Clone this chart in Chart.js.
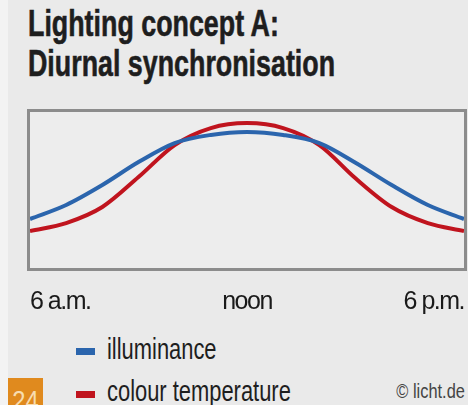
<!DOCTYPE html>
<html>
<head>
<meta charset="utf-8">
<script src="https://cdn.jsdelivr.net/npm/chart.js@4.4.1/dist/chart.umd.min.js"></script>
<style>
  html, body { margin: 0; padding: 0; }
  body {
    width: 468px; height: 405px; overflow: hidden; position: relative;
    background: #eaeaea;
    font-family: 'Liberation Sans', Arial, sans-serif;
    color: #1e1e1e;
  }
  #strip { position: absolute; left: 0; top: 0; width: 8px; height: 405px; background: #f3f3f3; }
  .title {
    position: absolute; left: 28px; font-size: 37px; font-weight: bold;
    -webkit-text-stroke: 0.6px #1e1e1e;
    transform: scaleX(0.725); transform-origin: left top; white-space: nowrap; line-height: 1;
  }
  #chartBox { position: absolute; left: 0; top: 100px; width: 468px; height: 220px; }
  .legend { position: absolute; left: 76px; font-size: 30px; line-height: 1; white-space: nowrap; }
  .legend i { position: absolute; left: 0; width: 19px; height: 7px; }
  .legend span {
    position: absolute; left: 31px; top: 0; transform: scaleX(0.73); transform-origin: left top;
  }
  #copy {
    position: absolute; right: 3px; top: 380px; font-size: 21px; color: #444; line-height: 1;
    white-space: nowrap; transform: scaleX(0.78); transform-origin: right top;
  }
  #page {
    position: absolute; left: 8px; top: 378px; width: 35px; height: 27px; background: #e08a1e;
    color: #f7dcb0; font-size: 28px; line-height: 1; overflow: hidden; text-align: center;
  }
  #page span { position: relative; top: 9px; display: inline-block; transform: scaleX(0.85); }
</style>
</head>
<body>
<div id="strip"></div>
<div class="title" style="top:5px">Lighting concept A:</div>
<div class="title" style="top:45px">Diurnal synchronisation</div>
<div id="chartBox"><canvas id="dayChart"></canvas></div>
<div class="legend" style="top:334px"><i style="top:14px;background:#2b65ad"></i><span>illuminance</span></div>
<div class="legend" style="top:376px"><i style="top:15px;background:#c0141e"></i><span>colour temperature</span></div>
<div id="copy">© licht.de</div>
<div id="page"><span>24</span></div>

<script>
// hours of the day (x values)
const hours = [6, 7, 8, 9, 10, 11, 12, 13, 14, 15, 16, 17, 18];
// relative levels (0..100)
const illuminance = [31.4, 40.4, 53.2, 67.9, 80.1, 85.3, 87.2, 85.3, 80.1, 67.5, 53.2, 40.4, 31.4];
const colourTemp = [23.7, 28.8, 39.1, 58.3, 78.8, 89.7, 92.9, 89.7, 78.8, 57.5, 39.1, 28.8, 23.7];
// x axis labels
const tickValues = [6, 12, 18];
const tickLabels = ['6 a.m.', 'noon', '6 p.m.'];

const FONT = "'Liberation Sans', Arial, sans-serif";

// grey frame around the plot area
const framePlugin = {
  id: 'frame',
  beforeDraw(chart) {
    const a = chart.chartArea;
    const ctx = chart.ctx;
    ctx.save();
    ctx.fillStyle = '#ededed';
    ctx.fillRect(a.left, a.top, a.right - a.left, a.bottom - a.top);
    ctx.restore();
    // condensed look for the tick labels
    ctx.letterSpacing = '-1.5px';
  },
  afterDraw(chart) {
    const a = chart.chartArea;
    const ctx = chart.ctx;
    ctx.save();
    ctx.strokeStyle = '#8c8c8c';
    ctx.lineWidth = 3;
    ctx.strokeRect(a.left - 1.5, a.top - 1.5, a.right - a.left + 3, a.bottom - a.top + 3);
    ctx.restore();
  }
};

function toPoints(values) {
  return hours.map((h, i) => ({ x: h, y: values[i] }));
}

function lineSet(label, values, color) {
  return {
    label: label,
    data: toPoints(values),
    borderColor: color,
    backgroundColor: color,
    borderWidth: 4,
    pointRadius: 0,
    fill: false,
    cubicInterpolationMode: 'monotone'
  };
}

new Chart(document.getElementById('dayChart'), {
  type: 'line',
  data: {
    datasets: [
      lineSet('illuminance', illuminance, '#2b65ad'),
      lineSet('colour temperature', colourTemp, '#c0141e')
    ]
  },
  options: {
    responsive: true,
    maintainAspectRatio: false,
    animation: false,
    layout: { padding: { left: 30, right: 4, top: 12, bottom: 0 } },
    plugins: {
      legend: { display: false },
      tooltip: { enabled: false }
    },
    scales: {
      y: { display: false, min: 0, max: 100 },
      x: {
        type: 'linear',
        min: 6,
        max: 18,
        grid: { display: false, drawTicks: false },
        border: { display: false },
        afterBuildTicks: function(scale) {
          scale.ticks = tickValues.map(v => ({ value: v }));
        },
        afterFit: function(scale) {
          // labels sit inside the plot width, no side padding needed
          scale.height = 52;
          scale.paddingLeft = 0;
          scale.paddingRight = 0;
        },
        ticks: {
          align: 'inner',
          padding: 19,
          maxRotation: 0,
          color: '#1a1a1a',
          font: { size: 25, family: FONT },
          callback: function(value) {
            const i = tickValues.indexOf(value);
            return i >= 0 ? tickLabels[i] : '';
          }
        }
      }
    }
  },
  plugins: [framePlugin]
});
</script>
</body>
</html>
